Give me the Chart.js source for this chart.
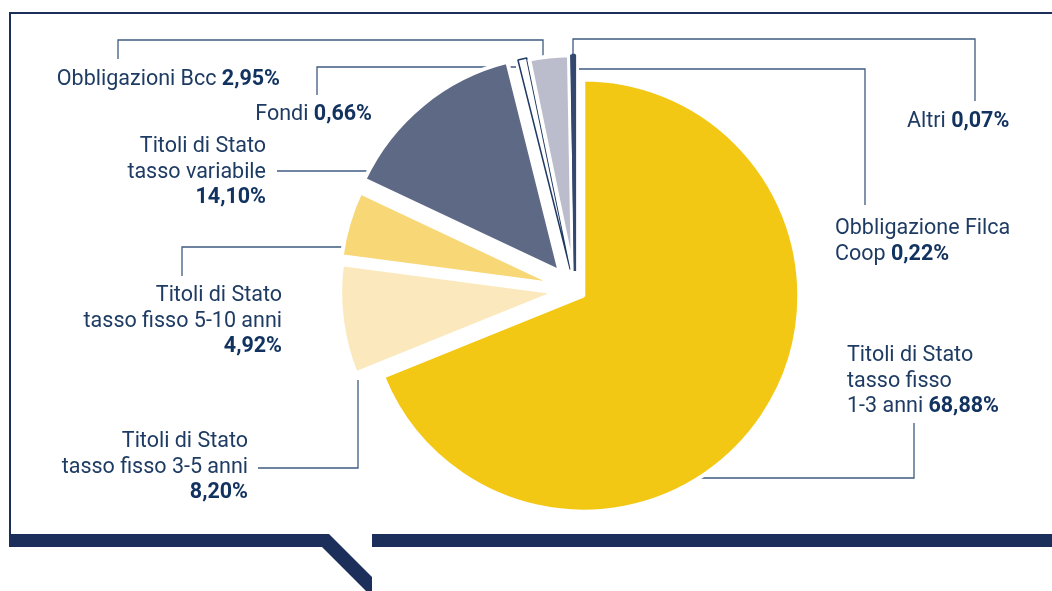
<!DOCTYPE html>
<html>
<head>
<meta charset="utf-8">
<script src="https://cdn.jsdelivr.net/npm/chart.js@4.4.0/dist/chart.umd.min.js"></script>
<style>
  html, body { margin: 0; padding: 0; background: #fff; }
  #wrap { width: 1052px; height: 591px; position: relative; }
</style>
</head>
<body>
<div id="wrap"><canvas id="pie"></canvas></div>
<script>
// composizione del portafoglio, in senso orario dalle ore 12
var categories = ["Titoli di Stato tasso fisso 1-3 anni", "Titoli di Stato tasso fisso 3-5 anni", "Titoli di Stato tasso fisso 5-10 anni",
                  "Titoli di Stato tasso variabile", "Fondi", "Obbligazioni Bcc", "Altri", "Obbligazione Filca Coop"];
var values = [68.88, 8.20, 4.92, 14.10, 0.66, 2.95, 0.07, 0.22];

// testo delle etichette, riga per riga
var labelLines = [
    ["Titoli di Stato", "tasso fisso", "1-3 anni"],
    ["Titoli di Stato", "tasso fisso 3-5 anni"],
    ["Titoli di Stato", "tasso fisso 5-10 anni"],
    ["Titoli di Stato", "tasso variabile"],
    ["Fondi"],
    ["Obbligazioni Bcc"],
    ["Altri"],
    ["Obbligazione Filca", "Coop"]
];
// il valore va in coda all'ultima riga oppure su una riga sua
var valueOwnLine = [false, true, true, true, false, false, false, false];

// stile
var sliceColors  = ["#f3c814", "#fbe9bd", "#f8d777", "#5e6986", "#ffffff", "#bbbccc", "#ffffff", "#34476f"];
var sliceBorders = ["#ffffff", "#ffffff", "#ffffff", "#ffffff", "#1f3a63", "#ffffff", "#1f3a63", "#34476f"];
var sliceBorderW = [4, 4, 4, 4, 1.5, 4, 1.2, 2.5];
var explode = [10, 19, 20, 24, 21, 19, 19, 19]; // px di spostamento verso l'esterno

var textColor = "#1e3b63";
var boldColor = "#123360";
var lineColor = "#3f5b80";
var frameColor = "#1c2e5a";
var fontFamily = "Roboto, 'Noto Sans', sans-serif";
var fontSize = 21.5;
var lineGap = 25.5;

// posizione delle etichette: x, allineamento, linea di base della prima riga
var labelPos = [
    {x: 847, align: "left",  y: 361},
    {x: 248, align: "right", y: 447},
    {x: 282, align: "right", y: 301},
    {x: 266, align: "right", y: 152},
    {x: 372, align: "right", y: 120},
    {x: 280, align: "right", y: 85},
    {x: 907, align: "left",  y: 127},
    {x: 835, align: "left",  y: 234}
];

// linee di richiamo
var leaders = [
    [[697, 478], [914, 478], [914, 423]],
    [[258, 468], [358, 468], [358, 380]],
    [[182, 276], [182, 247], [350, 247]],
    [[277, 171], [375, 171]],
    [[317, 95], [317, 67], [516, 67]],
    [[118, 59], [118, 40], [543, 40], [543, 66]],
    [[573, 60], [573, 39], [975, 39], [975, 101]],
    [[579, 69], [865, 69], [865, 205]]
];

function fmt(v) {
    return v.toFixed(2).replace(".", ",") + "%";
}

var explodePlugin = {
    id: "explode",
    afterDatasetUpdate: function (chart, args) {
        args.meta.data.forEach(function (arc, i) {
            var mid = (arc.startAngle + arc.endAngle) / 2;
            arc.x += Math.cos(mid) * explode[i];
            arc.y += Math.sin(mid) * explode[i];
        });
    }
};

var leaderPlugin = {
    id: "leaders",
    beforeDatasetsDraw: function (chart) {
        var ctx = chart.ctx;
        ctx.save();
        ctx.strokeStyle = lineColor;
        ctx.lineWidth = 1.3;
        leaders.forEach(function (pts) {
            ctx.beginPath();
            pts.forEach(function (p, k) {
                if (k === 0) ctx.moveTo(p[0], p[1]); else ctx.lineTo(p[0], p[1]);
            });
            ctx.stroke();
        });
        ctx.restore();
    }
};

var labelPlugin = {
    id: "labels",
    afterDraw: function (chart) {
        var ctx = chart.ctx;
        var reg = fontSize + "px " + fontFamily;
        var bold = "bold " + fontSize + "px " + fontFamily;
        ctx.save();
        ctx.textBaseline = "alphabetic";
        ctx.textAlign = "left";

        categories.forEach(function (c, i) {
            var lines = labelLines[i].map(function (t) { return [t, ""]; });
            if (valueOwnLine[i]) lines.push(["", fmt(values[i])]);
            else lines[lines.length - 1][1] = fmt(values[i]);

            var pos = labelPos[i];
            lines.forEach(function (ln, k) {
                var a = ln[0], b = ln[1];
                if (a && b) a = a + " ";
                ctx.font = reg;
                var wa = ctx.measureText(a).width;
                ctx.font = bold;
                var wb = ctx.measureText(b).width;
                var x0 = pos.align === "right" ? pos.x - wa - wb : pos.x;
                var y = pos.y + k * lineGap;
                ctx.font = reg;
                ctx.fillStyle = textColor;
                ctx.fillText(a, x0, y);
                ctx.font = bold;
                ctx.fillStyle = boldColor;
                ctx.fillText(b, x0 + wa, y);
            });
        });

        // cornice
        ctx.fillStyle = frameColor;
        ctx.fillRect(9, 12, 1043, 2);
        ctx.fillRect(9, 12, 2, 523);
        ctx.beginPath();
        ctx.moveTo(9, 534);
        ctx.lineTo(329, 534);
        ctx.lineTo(372, 577);
        ctx.lineTo(372, 591);
        ctx.lineTo(366, 591);
        ctx.lineTo(322, 547);
        ctx.lineTo(9, 547);
        ctx.closePath();
        ctx.fill();
        ctx.fillRect(372, 534, 680, 13);
        ctx.restore();
    }
};

new Chart(document.getElementById("pie").getContext("2d"), {
    type: "pie",
    data: {
        labels: categories,
        datasets: [{
            data: values,
            backgroundColor: sliceColors,
            borderColor: sliceBorders,
            borderWidth: sliceBorderW,
            radius: 216
        }]
    },
    options: {
        responsive: true,
        maintainAspectRatio: false,
        animation: false,
        events: [],
        layout: { padding: { left: 375, right: 277, top: 90, bottom: 101 } },
        plugins: {
            legend: { display: false },
            tooltip: { enabled: false }
        }
    },
    plugins: [explodePlugin, leaderPlugin, labelPlugin]
});
</script>
</body>
</html>
